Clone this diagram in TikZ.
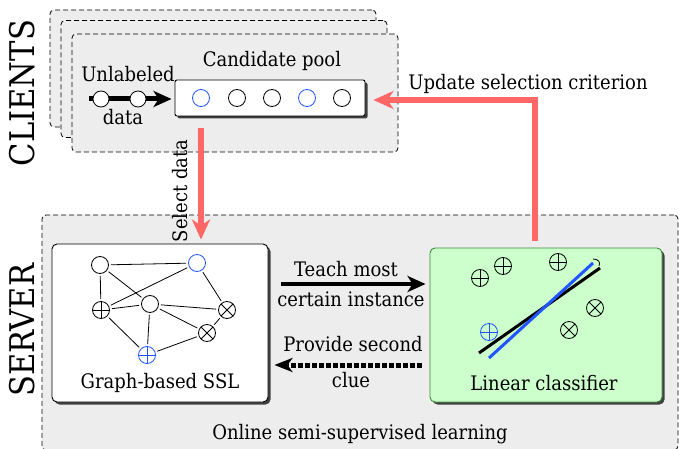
\documentclass[tikz,border=0pt]{standalone}
\usepackage{fontspec}
\setmainfont{DejaVu Serif}[FakeStretch=0.9]
\usetikzlibrary{arrows.meta,shadows,calc}
\definecolor{redarr}{HTML}{FF6666}
\definecolor{bgray}{HTML}{EDEDED}
\definecolor{lgreen}{HTML}{CCFFCC}
\definecolor{dgreen}{HTML}{3A8A3A}
\definecolor{myblue}{HTML}{2255FF}
\tikzset{
  dashbox/.style={draw, dash pattern=on 5pt off 3pt, fill=bgray, rounded corners=4pt, line width=0.8pt, inner sep=0pt},
  panel/.style={draw, rounded corners=5pt, line width=0.9pt, inner sep=0pt,
    drop shadow={shadow xshift=2.5pt, shadow yshift=-2.5pt, fill=black!75, opacity=1}},
  lbl/.style={font=\fontsize{20}{23}\selectfont, inner sep=0pt},
  big/.style={font=\fontsize{34}{38}\selectfont, inner sep=0pt, rotate=90},
  gn/.style={circle, draw, fill=white, minimum size=17pt, inner sep=0pt, line width=0.8pt},
  pl/.style={gn, path picture={\draw[line width=0.8pt] (path picture bounding box.north) -- (path picture bounding box.south) (path picture bounding box.west) -- (path picture bounding box.east);}},
  ot/.style={gn, path picture={\draw[line width=0.8pt]
     ([shift={(45:8.5pt)}]path picture bounding box.center) -- ([shift={(225:8.5pt)}]path picture bounding box.center)
     ([shift={(135:8.5pt)}]path picture bounding box.center) -- ([shift={(-45:8.5pt)}]path picture bounding box.center);}},
  edge/.style={line width=0.8pt},
  redarrow/.style={draw=redarr, line width=6pt, -{Stealth[length=20pt,width=18pt,inset=6pt]}},
  blackarrow/.style={draw=black, line width=4.5pt, -{Stealth[length=18pt,width=16pt,inset=5pt]}},
}
\begin{document}
\begin{tikzpicture}[x=1pt,y=-1pt]
\useasboundingbox (0,0) rectangle (679,449);

% client stacks
\node[dashbox, minimum width=326pt, minimum height=117pt] (c3) at (213,68.5) {};
\node[dashbox, minimum width=326pt, minimum height=117pt] (c2) at (224,79) {};
\node[dashbox, minimum width=326pt, minimum height=118pt] (c1) at (235,93) {};
\node[big] (clients) at (22,93) {CLIENTS};

% server
\node[dashbox, minimum width=636pt, minimum height=235pt] (server) at (360,332.5) {};
\node[big] (srv) at (22,330) {SERVER};

% candidate pool
\node[lbl] (cand) at (272,61) {Candidate pool};
\node[panel, fill=white, minimum width=190pt, minimum height=36pt, rounded corners=2pt] (pool) at (270,98) {};
\node[gn, draw=myblue] (p1) at (201,98) {};
\node[gn] (p2) at (237,98) {};
\node[gn] (p3) at (272,98) {};
\node[gn, draw=myblue] (p4) at (307,98) {};
\node[gn] (p5) at (342,98) {};

% unlabeled data
\node[lbl] (unl) at (128,74) {Unlabeled};
\node[lbl] (dat) at (123,117) {data};
\coordinate (ustart) at (89,99);
\draw[blackarrow, line width=5pt] (ustart) -- ([xshift=-3pt]pool.west |- ustart);
\node[gn, minimum size=16pt] (u1) at (101,99) {};
\node[gn, minimum size=16pt] (u2) at (138,99) {};

% graph panel
\node[panel, fill=white, minimum width=216pt, minimum height=158pt] (graph) at (160,323) {};
\node[gn] (ga) at (100,265) {};
\node[gn, draw=myblue] (gb) at (197,263) {};
\node[gn] (gc) at (150,304) {};
\node[pl] (gd) at (101,310) {};
\node[ot] (ge) at (227,310) {};
\node[ot] (gf) at (207,333) {};
\node[pl, draw=myblue] (gg) at (147,355) {};
\draw[edge, shorten <=2pt, shorten >=2pt] (ga) -- (gb);
\draw[edge, shorten <=2pt, shorten >=2pt] (ga) -- (gd);
\draw[edge, shorten <=2pt, shorten >=2pt] (ga) -- (gc);
\draw[edge, shorten <=2pt, shorten >=2pt] (gb) -- (gd);
\draw[edge, shorten <=2pt, shorten >=2pt] (gb) -- (ge);
\draw[edge, shorten <=2pt, shorten >=2pt] (gd) -- (gc);
\draw[edge, shorten <=2pt, shorten >=2pt] (gd) -- (gg);
\draw[edge, shorten <=2pt, shorten >=2pt] (gc) -- (ge);
\draw[edge, shorten <=2pt, shorten >=2pt] (gc) -- (gf);
\draw[edge, shorten <=2pt, shorten >=2pt] (gc) -- (gg);
\draw[edge, shorten <=2pt, shorten >=2pt] (gf) -- (ge);
\draw[edge, shorten <=2pt, shorten >=2pt] (gg) -- (gf);
\node[lbl] (gl) at (160,383) {Graph-based SSL};

% linear panel
\node[panel, fill=lgreen, draw=dgreen, minimum width=232pt, minimum height=154pt] (lin) at (546,325) {};
\node[pl, fill=none] (l1) at (480,278) {};
\node[pl, fill=none] (l2) at (503,266) {};
\node[pl, fill=none] (l3) at (558,262) {};
\node[ot, fill=none] (l4) at (595,308) {};
\node[ot, fill=none] (l5) at (569,330) {};
\node[pl, fill=none, draw=myblue] (l6) at (489,332) {};
\coordinate (k1) at (479,353);
\coordinate (k2) at (600,268);
\coordinate (b1) at (489,358);
\coordinate (b2) at (593,263);
\draw[line width=3pt] (k1) -- (k2);
\draw[line width=3pt, myblue] (b1) -- (b2);
\draw[line width=0.8pt] (593,259) .. controls (598,259) and (601,262) .. (599,266);
\node[lbl] (ll) at (544,383) {Linear classifier};

% teach / provide arrows
\coordinate (ty) at (0,284);
\coordinate (py) at (0,365);
\draw[blackarrow] ([xshift=13pt]graph.east |- ty) -- ([xshift=-4pt]lin.west |- ty);
\node[lbl] (teach1) at (346,269) {Teach most};
\node[lbl] (teach2) at (351,299) {certain instance};
\draw[blackarrow, line width=5pt, dash pattern=on 4.3pt off 2.7pt, -{Stealth[length=18pt,width=14pt,inset=5pt]}] ([xshift=-8pt]lin.west |- py) -- ([xshift=6pt]graph.east |- py);
\node[lbl] (prov1) at (353,344) {Provide second};
\node[lbl] (prov2) at (351,380) {clue};

\node[lbl] (online) at (360,434) {Online semi-supervised learning};

% red arrows
\draw[redarrow] ([yshift=-12pt]pool.south -| p1.center) -- ([yshift=4pt]graph.north -| p1.center);
\node[lbl, rotate=90] (sel) at (180,191) {Select data};
\coordinate (upd) at (535,241);
\draw[redarrow] (upd) |- ([xshift=8pt,yshift=-2pt]pool.east);
\node[lbl] (updl) at (528,84) {Update selection criterion};
\end{tikzpicture}
\end{document}
